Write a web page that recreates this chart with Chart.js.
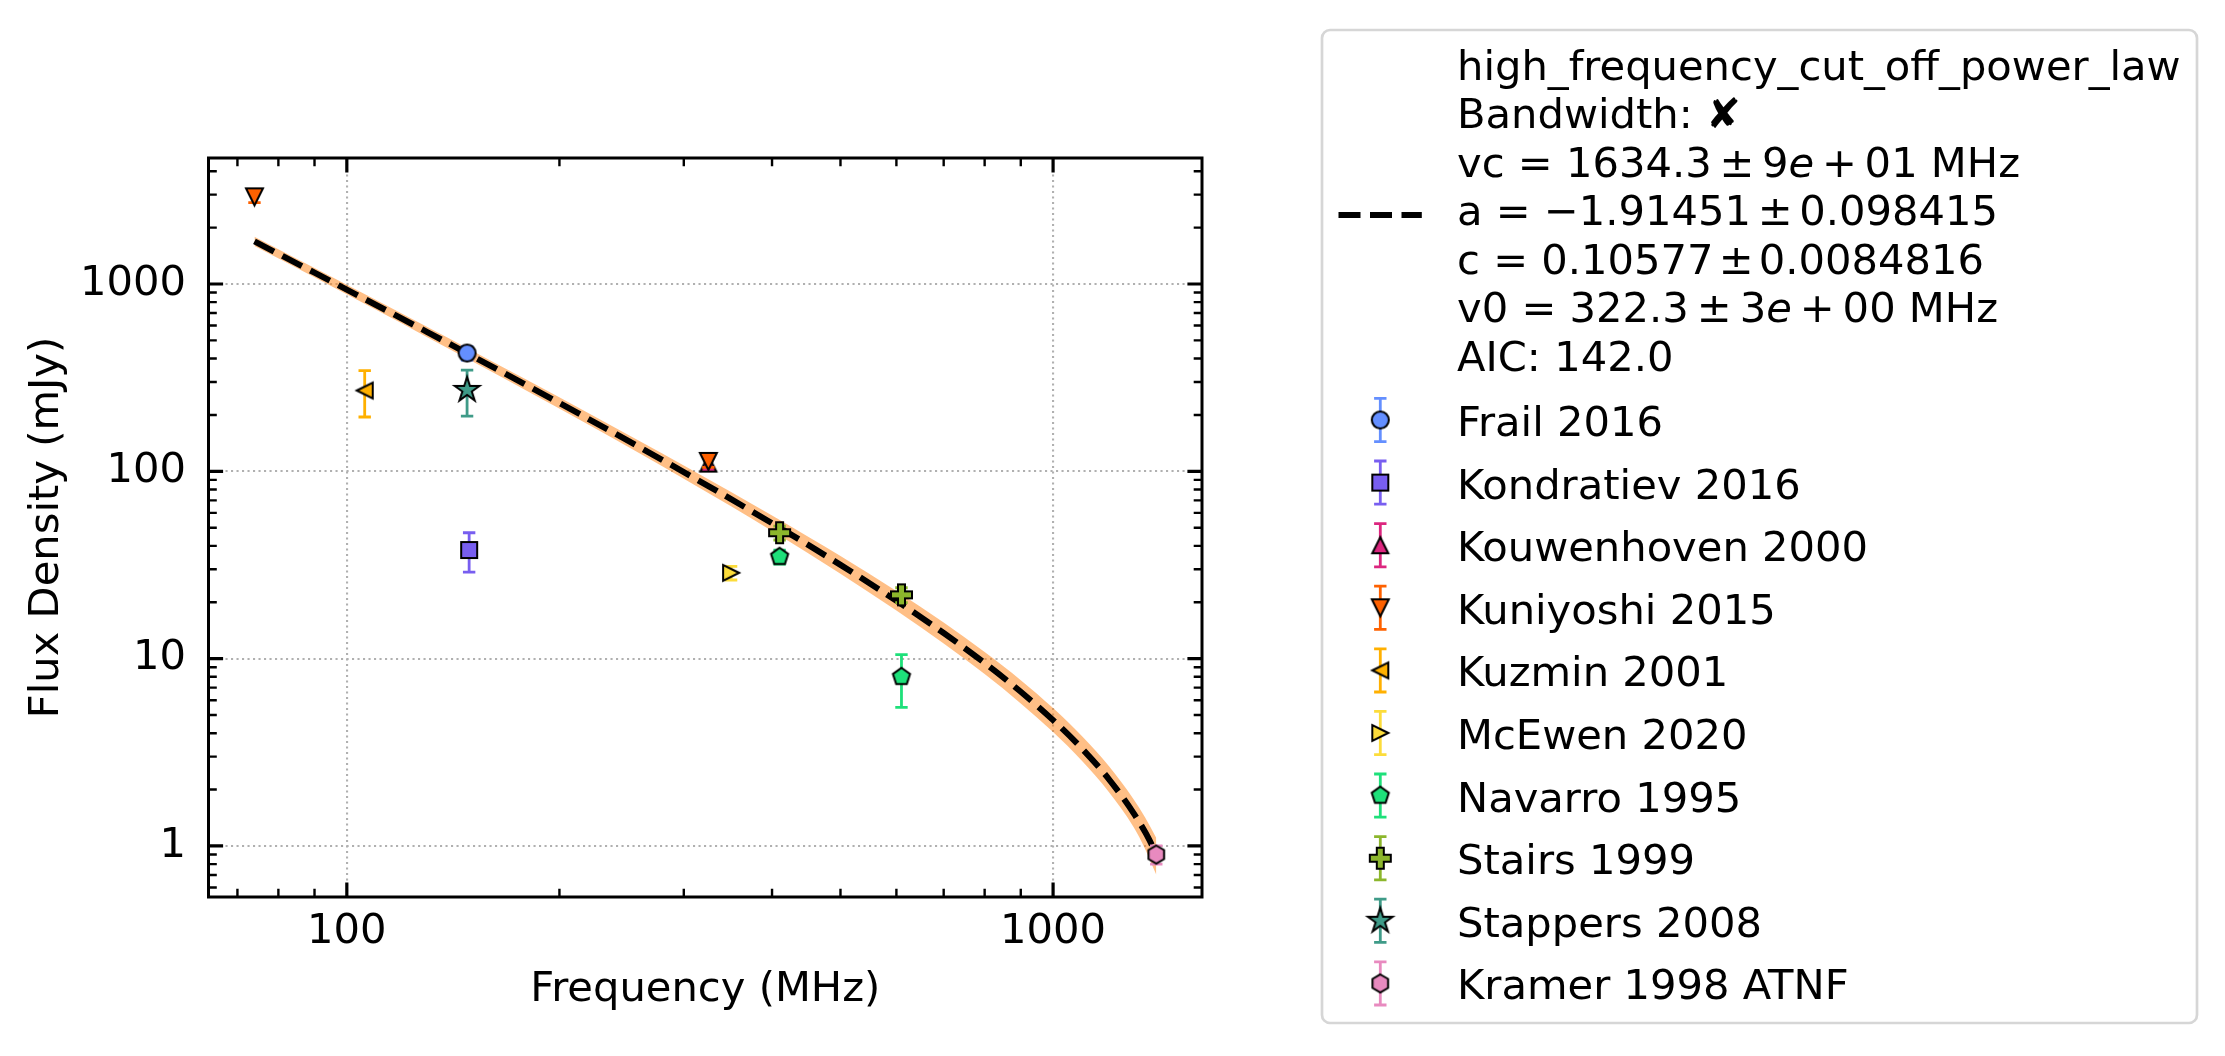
<!DOCTYPE html>
<html>
<head>
<meta charset="utf-8">
<script src="https://cdn.jsdelivr.net/npm/chart.js@4.4.1/dist/chart.umd.min.js"></script>
<style>
  html, body { margin: 0; padding: 0; background: #fff; }
  canvas { display: block; }
</style>
</head>
<body>
<canvas id="spectrum" width="2225" height="1056"></canvas>
<script>
// values
const sourceNames = ['Frail 2016', 'Kondratiev 2016', 'Kouwenhoven 2000', 'Kuniyoshi 2015', 'Kuzmin 2001',
  'McEwen 2020', 'Navarro 1995', 'Stairs 1999', 'Stappers 2008', 'Kramer 1998 ATNF'];

// one entry per measurement (index into sourceNames)
const pointSource = [0, 1, 2, 3, 3, 4, 5, 6, 6, 7, 7, 8, 9];
const pointFreq = [148, 149, 325, 74, 325, 106, 350, 410, 610, 410, 610, 148, 1400];
const pointFlux = [428, 38, 110, 2920, 113, 270, 28.7, 35, 8.0, 47, 21.9, 272, 0.9];
const pointErr = [35, 9, 8, 200, 8, 75, 2.4, 3, 2.5, 4, 2, 75, 0.1];

// fitted curve and its uncertainty band, sampled off the plot
const fitFreq = [74, 90, 110, 130, 150, 180, 220, 260, 300, 350, 400, 450, 500, 600, 700, 800, 900, 1000, 1100, 1200, 1300, 1350, 1400];
const fitFlux = [1689, 1149, 772.6, 553.8, 415.5, 287.1, 190.2, 134.2, 99.06, 70.99, 52.83, 40.46, 31.67, 20.37, 13.70, 9.473, 6.655, 4.698, 3.296, 2.269, 1.499, 1.186, 0.911];
const fitUpper = [1789, 1217, 820.3, 589.3, 443.2, 306.9, 204.3, 144.8, 107.4, 77.48, 58.06, 44.77, 35.29, 22.96, 15.59, 10.85, 7.677, 5.444, 3.837, 2.660, 1.778, 1.419, 1.103];
const fitLower = [1594, 1085, 727.7, 520.4, 389.6, 268.6, 177.1, 124.4, 91.39, 65.04, 48.07, 36.56, 28.42, 18.07, 12.04, 8.270, 5.769, 4.054, 2.831, 1.936, 1.264, 0.964, 0.701];

const fitLabel = [
  'high_frequency_cut_off_power_law',
  'Bandwidth: ✘',
  'vc = 1634.3 ± 9e + 01 MHz',
  'a = −1.91451 ± 0.098415',
  'c = 0.10577 ± 0.0084816',
  'v0 = 322.3 ± 3e + 00 MHz',
  'AIC: 142.0'
];
// rendered width of each label line in the figure (null = natural spacing)
const fitLabelWidth = [null, null, 563, 541, 527, 541, null];

const xTicks = [70, 80, 90, 100, 200, 300, 400, 500, 600, 700, 800, 900, 1000];
const xLabels = [100, 1000];
const yTicks = [0.6, 0.7, 0.8, 0.9, 1, 2, 3, 4, 5, 6, 7, 8, 9, 10, 20, 30, 40, 50, 60, 70, 80, 90,
  100, 200, 300, 400, 500, 600, 700, 800, 900, 1000, 2000, 3000, 4000];
const yLabels = [1, 10, 100, 1000];

// marker look per source
const sourceStyle = [
  { shape: 'circle', size: 17, color: '#648FFF' },
  { shape: 'square', size: 16, color: '#785EF0' },
  { shape: 'triUp', size: 16, color: '#DC267F' },
  { shape: 'triDown', size: 17, color: '#FE6100' },
  { shape: 'triLeft', size: 16, color: '#FFB000' },
  { shape: 'triRight', size: 16, color: '#FCDC3B' },
  { shape: 'pentagon', size: 18, color: '#1EE07A' },
  { shape: 'plus', size: 21, color: '#8CB62C' },
  { shape: 'star', size: 26, color: '#3F9B88' },
  { shape: 'hexagon', size: 18, color: '#E88ABF' }
];

const FS = 41.67;
Chart.defaults.font.family = '"DejaVu Sans"';
Chart.defaults.font.size = FS;
Chart.defaults.color = '#000';

function tracePoly(g, pts) {
  g.moveTo(pts[0][0], pts[0][1]);
  for (let i = 1; i < pts.length; i++) g.lineTo(pts[i][0], pts[i][1]);
}

function regular(n, r, inner) {
  const pts = [];
  const steps = inner ? n * 2 : n;
  for (let k = 0; k < steps; k++) {
    const ang = -Math.PI / 2 + k * 2 * Math.PI / steps;
    const rad = inner && k % 2 ? r * inner : r;
    pts.push([rad * Math.cos(ang), rad * Math.sin(ang)]);
  }
  return pts;
}

// small canvas used as a point style
function makeMarker(shape, size, fill) {
  const dim = Math.ceil(size + 8);
  const c = document.createElement('canvas');
  c.width = dim;
  c.height = dim;
  const g = c.getContext('2d');
  g.translate(dim / 2, dim / 2);
  const r = size / 2;
  g.beginPath();
  if (shape === 'circle') g.arc(0, 0, r, 0, Math.PI * 2);
  else if (shape === 'square') g.rect(-r, -r, size, size);
  else if (shape === 'triUp') tracePoly(g, [[0, -r], [r, r], [-r, r]]);
  else if (shape === 'triDown') tracePoly(g, [[0, r], [r, -r], [-r, -r]]);
  else if (shape === 'triLeft') tracePoly(g, [[-r, 0], [r, -r], [r, r]]);
  else if (shape === 'triRight') tracePoly(g, [[r, 0], [-r, -r], [-r, r]]);
  else if (shape === 'pentagon') tracePoly(g, regular(5, r));
  else if (shape === 'hexagon') tracePoly(g, regular(6, r));
  else if (shape === 'star') tracePoly(g, regular(5, r, 0.381966));
  else if (shape === 'plus') {
    const u = size / 6;
    tracePoly(g, [[-1, -3], [1, -3], [1, -1], [3, -1], [3, 1], [1, 1], [1, 3], [-1, 3], [-1, 1], [-3, 1], [-3, -1], [-1, -1]]
      .map(p => [p[0] * u, p[1] * u]));
  }
  g.closePath();
  g.fillStyle = fill;
  g.fill();
  g.lineWidth = 2;
  g.lineJoin = 'miter';
  g.strokeStyle = '#000';
  g.stroke();
  return c;
}

const markers = sourceStyle.map(s => makeMarker(s.shape, s.size, s.color));

function drawErrorBar(ctx, x, yTop, yBot, color) {
  ctx.save();
  ctx.strokeStyle = color;
  ctx.lineWidth = 2.8;
  ctx.beginPath();
  ctx.moveTo(x, yTop); ctx.lineTo(x, yBot);
  ctx.moveTo(x - 6.2, yTop); ctx.lineTo(x + 6.2, yTop);
  ctx.moveTo(x - 6.2, yBot); ctx.lineTo(x + 6.2, yBot);
  ctx.stroke();
  ctx.restore();
}

const upright = FS + 'px "DejaVu Sans"';
const italic = 'italic ' + FS + 'px "DejaVu Sans"';

// a word, with a trailing exponent "e" in italic like mathtext
function wordParts(word) {
  const m = word.match(/^(\d+)(e)$/);
  return m ? [[m[1], upright], [m[2], italic]] : [[word, upright]];
}

function wordWidth(ctx, word) {
  return wordParts(word).reduce((w, p) => { ctx.font = p[1]; return w + ctx.measureText(p[0]).width; }, 0);
}

// spaces next to "=" and before the unit keep their normal width,
// the math operators share the rest
function drawLabelLine(ctx, line, x, y, target) {
  const words = line.split(' ');
  ctx.font = upright;
  const space = ctx.measureText(' ').width;
  const gaps = words.slice(1).map((w, i) => (w === '=' || w === 'MHz' || words[i] === '=' ? space : null));
  let tight = space;
  const loose = gaps.filter(g => g === null).length;
  if (target && loose) {
    const sum = words.reduce((w, wd) => w + wordWidth(ctx, wd), 0);
    const fixed = gaps.reduce((s, g) => s + (g || 0), 0);
    tight = (target - sum - fixed) / loose;
  }
  let cx = x;
  words.forEach((wd, i) => {
    wordParts(wd).forEach(p => {
      ctx.font = p[1];
      ctx.fillText(p[0], cx, y);
      cx += ctx.measureText(p[0]).width;
    });
    if (i < gaps.length) cx += gaps[i] === null ? tight : gaps[i];
  });
  ctx.font = upright;
}

// error bars go under each source's markers
const errorBarPlugin = {
  id: 'errorBars',
  beforeDatasetDraw(chart, args) {
    const ds = chart.data.datasets[args.index];
    if (!ds.errors) return;
    const { x, y } = chart.scales;
    ds.data.forEach((p, i) => {
      const px = x.getPixelForValue(p.x);
      drawErrorBar(chart.ctx, px, y.getPixelForValue(p.y + ds.errors[i]),
        y.getPixelForValue(p.y - ds.errors[i]), ds.errorColor);
    });
  }
};

// inward ticks on all four sides plus the box
const framePlugin = {
  id: 'frame',
  afterDatasetsDraw(chart) {
    const { ctx, chartArea: a, scales: { x, y } } = chart;
    ctx.save();
    ctx.strokeStyle = '#000';
    x.ticks.forEach(t => {
      const major = xLabels.includes(t.value);
      const len = major ? 14.6 : 8.3;
      const px = x.getPixelForValue(t.value);
      ctx.lineWidth = major ? 3.2 : 2.4;
      ctx.beginPath();
      ctx.moveTo(px, a.bottom); ctx.lineTo(px, a.bottom - len);
      ctx.moveTo(px, a.top); ctx.lineTo(px, a.top + len);
      ctx.stroke();
    });
    y.ticks.forEach(t => {
      const major = yLabels.includes(t.value);
      const len = major ? 14.6 : 8.3;
      const py = y.getPixelForValue(t.value);
      ctx.lineWidth = major ? 3.2 : 2.4;
      ctx.beginPath();
      ctx.moveTo(a.left, py); ctx.lineTo(a.left + len, py);
      ctx.moveTo(a.right, py); ctx.lineTo(a.right - len, py);
      ctx.stroke();
    });
    ctx.lineWidth = 3;
    ctx.strokeRect(a.left, a.top, a.right - a.left, a.bottom - a.top);
    ctx.restore();
  }
};

const legendPlugin = {
  id: 'sourceLegend',
  afterDraw(chart) {
    const ctx = chart.ctx;
    ctx.save();
    ctx.beginPath();
    if (ctx.roundRect) ctx.roundRect(1322, 30, 875, 993, 8);
    else ctx.rect(1322, 30, 875, 993);
    ctx.fillStyle = 'rgba(255,255,255,0.8)';
    ctx.fill();
    ctx.lineWidth = 2.7;
    ctx.strokeStyle = '#d6d6d6';
    ctx.stroke();

    ctx.strokeStyle = '#000';
    ctx.lineWidth = 6;
    ctx.setLineDash([22, 9.5]);
    ctx.beginPath();
    ctx.moveTo(1338.5, 215); ctx.lineTo(1421.8, 215);
    ctx.stroke();
    ctx.setLineDash([]);

    ctx.fillStyle = '#000';
    ctx.textAlign = 'left';
    ctx.textBaseline = 'alphabetic';
    fitLabel.forEach((line, k) => drawLabelLine(ctx, line, 1457, 79.5 + 48.5 * k, fitLabelWidth[k]));

    sourceNames.forEach((name, k) => {
      const cy = 420 + 62.6 * k;
      drawErrorBar(ctx, 1380.3, cy - 21.6, cy + 21.6, sourceStyle[k].color);
      const m = markers[k];
      ctx.drawImage(m, 1380.3 - m.width / 2, cy - m.height / 2);
      ctx.fillStyle = '#000';
      ctx.font = upright;
      ctx.fillText(name, 1457, cy + 16);
    });
    ctx.restore();
  }
};

const pointSets = sourceNames.map((name, s) => {
  const idx = pointSource.map((src, i) => (src === s ? i : -1)).filter(i => i >= 0);
  return {
    label: name,
    data: idx.map(i => ({ x: pointFreq[i], y: pointFlux[i] })),
    errors: idx.map(i => pointErr[i]),
    errorColor: sourceStyle[s].color,
    showLine: false,
    pointStyle: markers[s],
    pointRadius: 10,
    order: -s
  };
});

const toXY = (vals) => fitFreq.map((f, i) => ({ x: f, y: vals[i] }));

new Chart(document.getElementById('spectrum'), {
  type: 'line',
  data: {
    datasets: [
      { label: 'band low', data: toXY(fitLower), borderWidth: 0, pointRadius: 0, fill: false,
        cubicInterpolationMode: 'monotone', order: 300 },
      { label: 'band high', data: toXY(fitUpper), borderWidth: 0, pointRadius: 0, fill: '-1',
        backgroundColor: 'rgba(255,127,14,0.5)', cubicInterpolationMode: 'monotone', order: 300 },
      { label: 'fit', data: toXY(fitFlux), borderColor: '#000', borderWidth: 6, borderDash: [22, 9.5],
        pointRadius: 0, fill: false, cubicInterpolationMode: 'monotone', order: 200 },
      ...pointSets
    ]
  },
  options: {
    responsive: false,
    devicePixelRatio: 1,
    animation: false,
    events: [],
    layout: { padding: { left: 0, top: 158, right: 1023, bottom: 0 } },
    plugins: { legend: { display: false }, tooltip: { enabled: false } },
    scales: {
      x: {
        type: 'logarithmic',
        min: 63.7,
        max: 1625,
        bounds: 'data',
        afterBuildTicks: (s) => { s.ticks = xTicks.map(v => ({ value: v })); },
        afterFit: (s) => { s.height = 159; },
        ticks: {
          autoSkip: false,
          maxRotation: 0,
          padding: 10,
          callback: (v) => (xLabels.includes(v) ? String(v) : '')
        },
        grid: {
          drawTicks: false,
          lineWidth: 2.1,
          color: (c) => (c.tick && xLabels.includes(c.tick.value) ? '#b0b0b0' : 'rgba(0,0,0,0)')
        },
        border: { display: false, dash: [2.1, 3.4] },
        title: { display: true, text: 'Frequency (MHz)', padding: { top: 0, bottom: 41 } }
      },
      y: {
        type: 'logarithmic',
        min: 0.534,
        max: 4706,
        bounds: 'data',
        afterBuildTicks: (s) => { s.ticks = yTicks.map(v => ({ value: v })); },
        afterFit: (s) => { s.width = 208.5; },
        ticks: {
          autoSkip: false,
          padding: 22.5,
          callback: (v) => (yLabels.includes(v) ? String(v) : '')
        },
        grid: {
          drawTicks: false,
          lineWidth: 2.1,
          color: (c) => (c.tick && yLabels.includes(c.tick.value) ? '#b0b0b0' : 'rgba(0,0,0,0)')
        },
        border: { display: false, dash: [2.1, 3.4] },
        title: { display: true, text: 'Flux Density (mJy)', padding: { top: 22, bottom: 0 } }
      }
    }
  },
  plugins: [errorBarPlugin, framePlugin, legendPlugin]
});
</script>
</body>
</html>
